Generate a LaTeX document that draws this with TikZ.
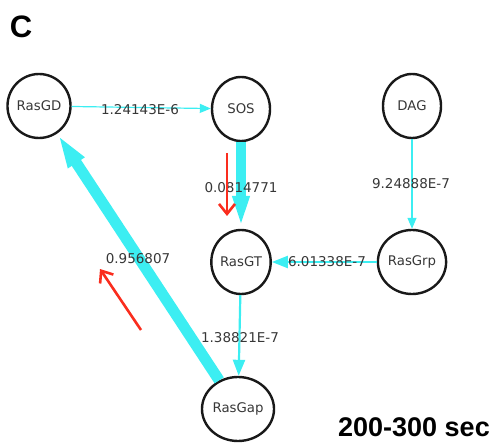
\documentclass[tikz,border=0pt]{standalone}
\usepackage{fontspec}
\newfontfamily\labfont{DejaVu Sans}
\newfontfamily\helfont{Liberation Sans}
\usetikzlibrary{arrows.meta,shapes.geometric}
\definecolor{edgecyan}{RGB}{60,238,242}
\definecolor{annored}{RGB}{250,45,30}
\definecolor{txtgray}{RGB}{55,55,55}
\tikzset{
  mol/.style={ellipse,draw=black!90,line width=2.4pt,minimum width=58pt,minimum height=64pt,inner sep=0pt,
    font=\labfont\fontsize{13.3}{15}\selectfont,text=txtgray},
  ratelab/.style={font=\labfont\fontsize{13.5}{15}\selectfont,text=txtgray,inner sep=1pt},
  thinedge/.style={draw=edgecyan,line width=1.2pt,-{Triangle[length=11pt,width=9pt]}},
  midedge/.style={draw=edgecyan,line width=2.2pt,-{Triangle[length=16pt,width=12pt]}},
  thickedge/.style={draw=edgecyan,line width=10pt,-{Triangle[length=33pt,width=15pt]}},
  heavyedge/.style={draw=edgecyan,line width=11pt,-{Triangle[length=35pt,width=17pt]}},
  redarrow/.style={draw=annored,line width=2.6pt,-{Straight Barb[length=10pt,width=16pt]}},
}
\begin{document}
\begin{tikzpicture}[x=1pt,y=-1pt]
\useasboundingbox (0,0) rectangle (500,446);
\node[font=\helfont\bfseries\fontsize{31}{34}\selectfont,anchor=center] (title) at (21,27) {C};
\node[font=\helfont\bfseries\fontsize{27}{30}\selectfont,anchor=center] (time) at (414,427) {200-300 sec};

\node[mol] (rasgd) at (39,106) {RasGD};
\node[mol] (sos) at (241,109) {SOS};
\node[mol] (dag) at (412,106) {DAG};
\node[mol] (rasgt) at (241,262) {RasGT};
\node[mol] (rasgrp) at (412,262) {RasGrp};
\node[mol] (rasgap) at (238,409) {RasGap};

\draw[heavyedge] (rasgap) -- (rasgd);
\draw[thickedge] (sos) -- (rasgt);
\draw[thinedge] (rasgd) -- (sos);
\draw[thinedge] (dag) -- (rasgrp);
\draw[midedge] (rasgrp) -- (rasgt);
\draw[midedge] (rasgt) -- (rasgap);

\node[ratelab] (l1) at (140,110) {1.24143E-6};
\node[ratelab] (l2) at (241,188) {0.0814771};
\node[ratelab] (l3) at (411,184) {9.24888E-7};
\node[ratelab] (l4) at (327,262) {6.01338E-7};
\node[ratelab] (l5) at (240,338) {1.38821E-7};
\node[ratelab] (l6) at (138,259) {0.956807};

\coordinate (r1s) at (227,153);
\coordinate (r1e) at (227,216);
\coordinate (r2s) at (141,330);
\coordinate (r2e) at (100,269);
\draw[redarrow] (r1s) -- (r1e);
\draw[redarrow] (r2s) -- (r2e);
\end{tikzpicture}
\end{document}
